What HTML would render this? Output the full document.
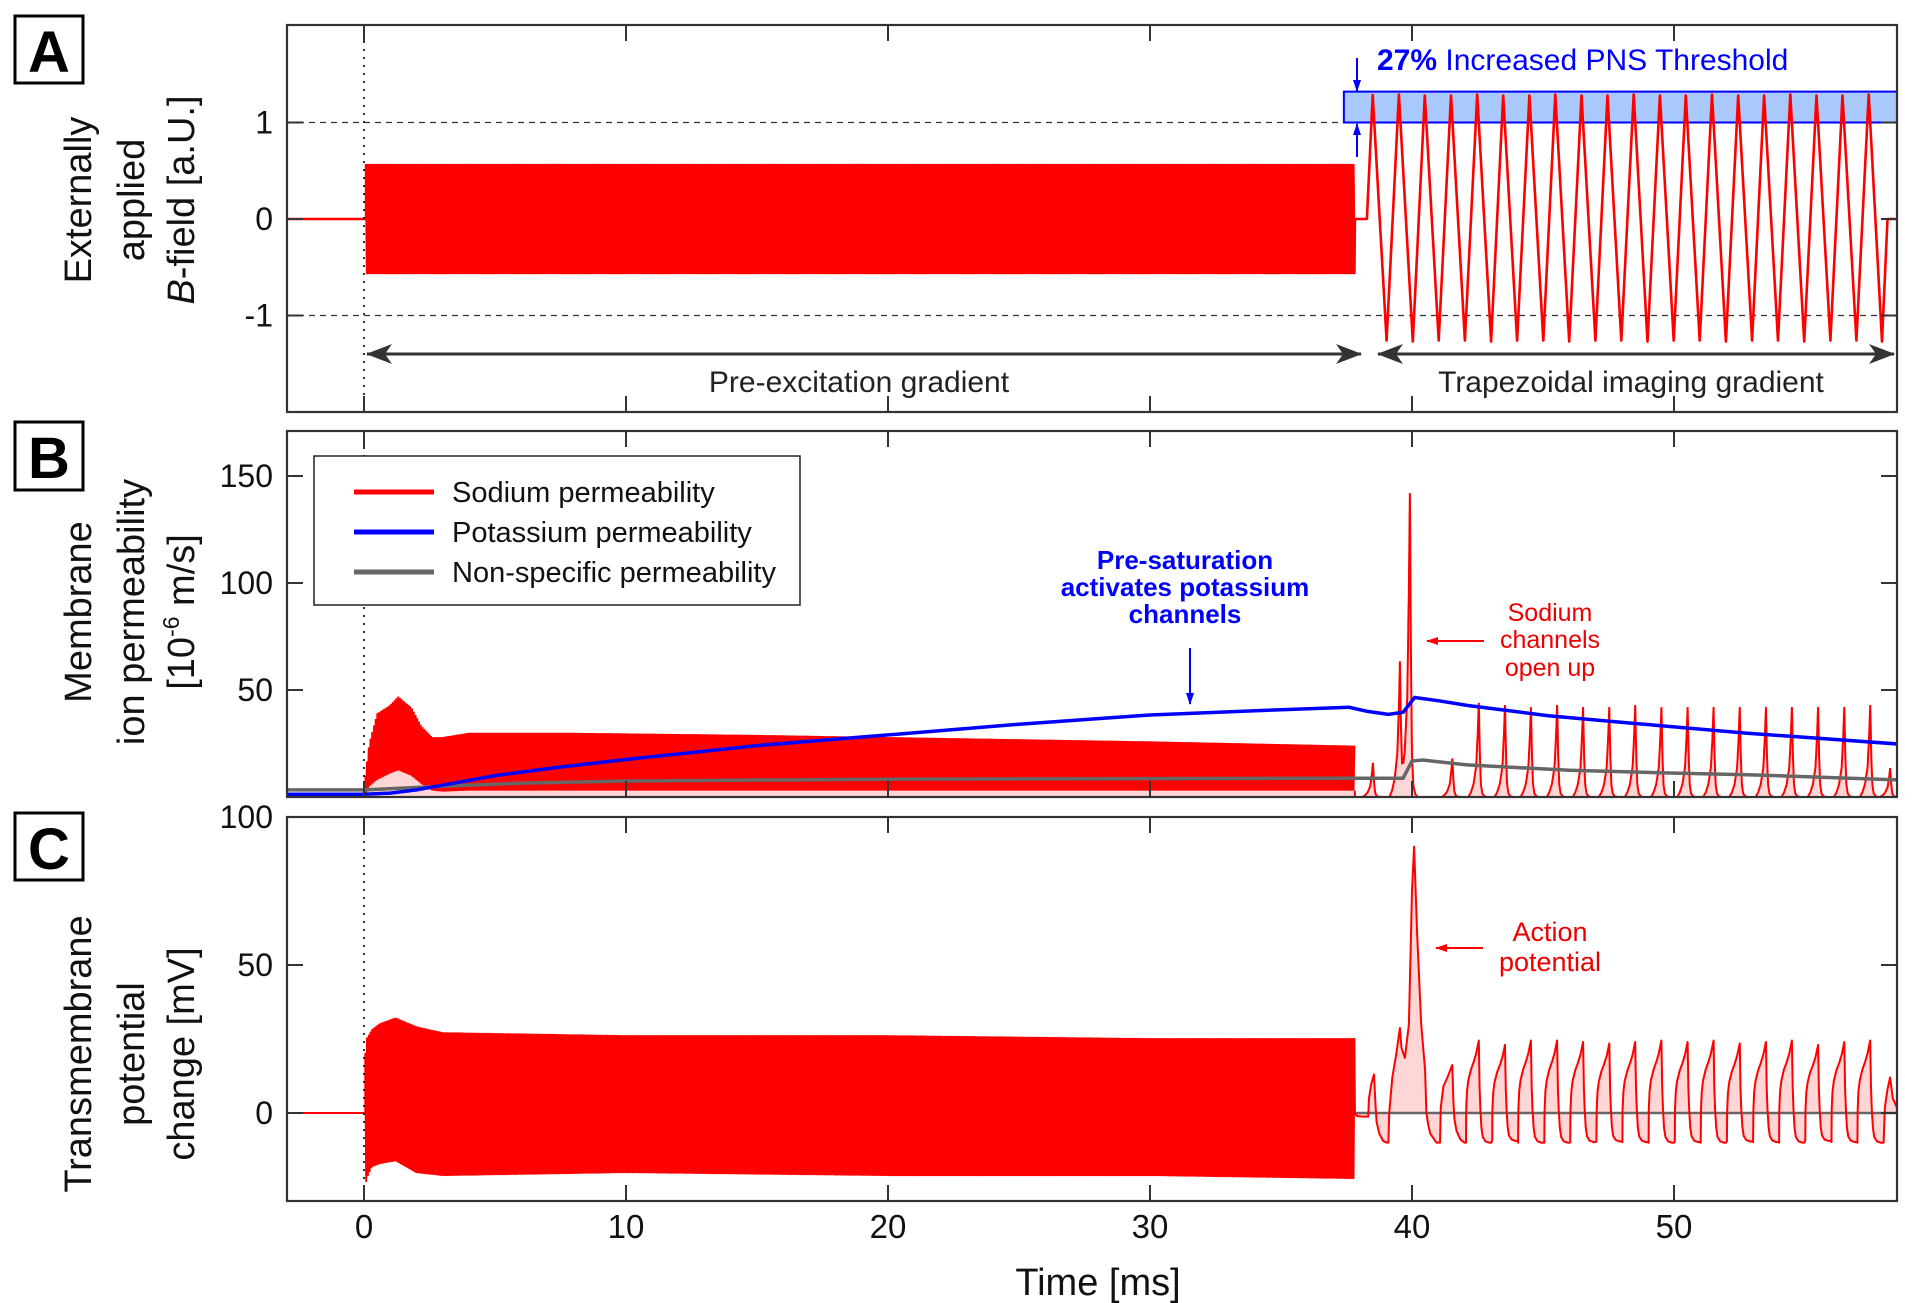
<!DOCTYPE html>
<html><head><meta charset="utf-8"><title>PNS threshold chart</title>
<style>
html,body{margin:0;padding:0;background:#fff;}
svg{display:block;font-family:"Liberation Sans",Arial,sans-serif;}
</style></head>
<body>
<svg id="chart" xmlns="http://www.w3.org/2000/svg" width="1919" height="1303" viewBox="0 0 1919 1303">
<defs>
<marker id="ahb" markerWidth="12" markerHeight="10" refX="11" refY="5" orient="auto" markerUnits="userSpaceOnUse"><path d="M0,1 L12,5 L0,9 z" fill="#00f"/></marker>
<marker id="ahr" markerWidth="12" markerHeight="10" refX="11" refY="5" orient="auto" markerUnits="userSpaceOnUse"><path d="M0,1 L12,5 L0,9 z" fill="#f00"/></marker>
<marker id="ahg" markerWidth="26" markerHeight="20" refX="25" refY="10" orient="auto" markerUnits="userSpaceOnUse"><path d="M0,0 L26,10 L0,20 L7,10 z" fill="#333"/></marker>
<clipPath id="clipA"><rect x="287" y="25" width="1610" height="387"/></clipPath>
<clipPath id="clipB"><rect x="287" y="431" width="1610" height="366"/></clipPath>
<clipPath id="clipC"><rect x="287" y="817" width="1610" height="384"/></clipPath>
</defs>
</svg>
<script>
// ---------- data ----------
const xTicks=[0,10,20,30,40,50];
const xTickLabels=["0","10","20","30","40","50"];
const aTicks=[1,0,-1];
const aTickLabels=["1","0","-1"];
const bTicks=[50,100,150];
const bTickLabels=["50","100","150"];
const cTicks=[0,50,100];
const cTickLabels=["0","50","100"];

// Panel A: pre-excitation envelope
const aEnvT=[0.08,10,20,30,37.82];
const aEnvHi=[0.56,0.56,0.56,0.56,0.56];
const aEnvLo=[-0.56,-0.56,-0.56,-0.56,-0.56];
// Panel A: trapezoidal gradient
const trapPeakT=[38.50,39.50,40.49,41.49,42.49,43.48,44.48,45.47,46.47,47.46,48.46,49.46,50.45,51.45,52.45,53.44,54.44,55.44,56.43,57.43];
const trapPeakV=[1.285,1.29,1.28,1.28,1.29,1.28,1.28,1.29,1.28,1.28,1.29,1.28,1.28,1.29,1.28,1.28,1.29,1.28,1.28,1.29];
const trapTroughT=[39.03,40.03,41.02,42.02,43.02,44.01,45.01,46.00,47.00,47.99,48.99,49.99,50.98,51.98,52.98,53.97,54.97,55.97,56.96,57.94];
const trapTroughV=[-1.26,-1.27,-1.26,-1.26,-1.27,-1.26,-1.26,-1.27,-1.26,-1.26,-1.27,-1.26,-1.26,-1.27,-1.26,-1.26,-1.27,-1.26,-1.26,-1.27];

// Panel B: sodium pre-excitation envelope
const bEnvT=[0.05,0.2,0.5,1.0,1.3,1.8,2.2,2.6,3,4,8,15,20,30,37.82];
const bEnvHi=[10,25,39,43,47,42,33,28,28,30,30,29,28,26,24];
const bEnvLo=[0,5,8,11,12.5,10,6,3,2.5,3,3,3,3,3,3];
// Panel B: sodium spikes after pre-excitation
const bSpikeT=[38.51,39.54,39.92,41.54,42.55,43.55,44.54,45.54,46.53,47.53,48.52,49.52,50.52,51.51,52.51,53.51,54.50,55.50,56.50,57.49,58.25];
const bSpikeH=[16,62,142,18,44,43,42,43,42,42,43,42,42,42,42,42,42,42,42,43,13.5];
// Panel B: potassium
const kT=[-3,0,1,2,3,5,7.5,10,15,20,25,30,35,37.6,38.3,39.1,39.66,40.1,41,42.1,45.2,48.4,52.8,58.6];
const kV=[1.3,1.3,1.8,3.3,5.5,10,14,17.5,24,29,34,38.3,40.8,41.9,40,38.6,39.6,46.5,45,42.8,38,34.5,29.8,24.7];
// Panel B: non-specific
const nT=[-3,0,3,6,10,20,37.6,39.66,40.0,40.4,42.1,46,49.8,52.8,58.6];
const nV=[3.3,3.3,5,6.5,7.5,8.3,8.8,8.8,16.8,17.3,15,12.5,11.2,10.4,8];

// Panel C: pre-excitation envelope
const cEnvT=[0.05,0.1,0.3,0.6,1.2,2,3,10,20,30,37.82];
const cEnvHi=[20,25,28,30,32,29,27,26,26,25,25];
const cEnvLo=[-25,-22,-18,-17,-16,-20,-21,-20,-21,-21,-22];
// Panel C: irregular onset + action potential
const cPostT=[37.82,37.9,38.1,38.33,38.36,38.45,38.55,38.6,38.65,38.75,38.9,39.03,39.1,39.13,39.25,39.4,39.54,39.6,39.73,39.88,40.0,40.08,40.2,40.35,40.5,40.55,40.62,40.7,40.85,40.93,41.07,41.1,41.2,41.35,41.54,41.58,41.62,41.7,41.85,42.0];
const cPostV=[0,-1,-1.2,-1.2,5,10,13,4,-3,-7,-9.5,-10,-10,0,12,20,28.7,22,18.6,30,75,90,60,30,14.5,0,-4,-7,-9,-10,-10,2,9,12,16.2,4,-2,-6,-9,-10];
// Panel C: regular spike train
const cTrainT=[42.55,43.55,44.54,45.54,46.53,47.53,48.52,49.52,50.52,51.51,52.51,53.51,54.50,55.50,56.50,57.49];
const cTrainH=[24.5,23,24.5,24.5,24,23.5,24,24.5,24,24.5,23.5,24,24.5,23,24,24.5];
const cEndT=[58.0,58.05,58.15,58.25,58.35,58.5,58.6];
const cEndV=[-10,2,8,12,5,2,1];

// ---------- axes ----------
const X=t=>364+26.2*t;
const yA=v=>219-96.5*v;
const yB=v=>797-2.14*v;
const yC=v=>1113-2.96*v;
const T0=-2.95, T1=58.5;
const NS="http://www.w3.org/2000/svg";
const svg=document.getElementById('chart');
function mk(tag,attrs,parent,txt){const e=document.createElementNS(NS,tag);for(const k in attrs)e.setAttribute(k,attrs[k]);if(txt!==undefined)e.textContent=txt;(parent||svg).appendChild(e);return e;}
function interp(ts,vs,t){if(t<=ts[0])return vs[0];for(let i=1;i<ts.length;i++){if(t<=ts[i]){const f=(t-ts[i-1])/(ts[i]-ts[i-1]);return vs[i-1]+f*(vs[i]-vs[i-1]);}}return vs[vs.length-1];}
function pathD(pts,fx,fy){return pts.map((p,i)=>(i?'L':'M')+fx(p[0]).toFixed(1)+','+fy(p[1]).toFixed(1)).join('');}
function zigzag(ts,hi,lo,step){const pts=[];let k=0;for(let t=ts[0];t<=ts[ts.length-1];t+=step,k++){pts.push([t,k%2?interp(ts,lo,t):interp(ts,hi,t)]);}return pts;}

const panels=[
 {id:'a',top:25,bot:412,fy:yA,ticks:aTicks,labels:aTickLabels,clip:'clipA'},
 {id:'b',top:431,bot:797,fy:yB,ticks:bTicks,labels:bTickLabels,clip:'clipB'},
 {id:'c',top:817,bot:1201,fy:yC,ticks:cTicks,labels:cTickLabels,clip:'clipC'}
];
const G={};
panels.forEach(p=>{
  const g=mk('g',{},svg);
  
  
  G[p.id]=mk('g',{'clip-path':'url(#'+p.clip+')'},g);
  p.g=g;
});

// Panel A guides
const dash1=mk('line',{x1:287,x2:1897,y1:yA(1),y2:yA(1),stroke:'#333','stroke-width':1.3,'stroke-dasharray':'6,5'},G.a);


const dash2=mk('line',{x1:287,x2:1897,y1:yA(-1),y2:yA(-1),stroke:'#333','stroke-width':1.3,'stroke-dasharray':'6,5'},G.a);


const band=mk('rect',{x:X(37.4),y:yA(1.32),width:1897-X(37.4),height:yA(1)-yA(1.32),fill:'#a9c8fb',stroke:'#0000ff','stroke-width':2},G.a);



// A series
const aPre=zigzag(aEnvT,aEnvHi,aEnvLo,0.04);
const aPts=[[T0,0],[0.08,0]].concat(aPre).concat([[37.82,0],[38.28,0]]);
for(let i=0;i<trapPeakT.length;i++){aPts.push([trapPeakT[i],trapPeakV[i]]);aPts.push([trapTroughT[i],trapTroughV[i]]);}
aPts.push([58.15,0],[T1,0]);
const aLine=mk('path',{d:pathD(aPts,X,yA),fill:'none',stroke:'#ff0000','stroke-width':2.6,'stroke-linejoin':'round'},G.a);



// B series
const bPre=zigzag(bEnvT,bEnvHi,bEnvLo,0.033);
const spikeRel=[-0.4,-0.3,-0.2,-0.1,-0.04,0,0.04,0.08,0.13,0.2,0.3];
const spikeFrac=[0,0.05,0.14,0.33,0.68,1,0.45,0.14,0.04,0.01,0];
function bPostVal(t){let v=0;for(let i=0;i<bSpikeT.length;i++){const d=t-bSpikeT[i];if(d>-0.4&&d<0.3)v+=bSpikeH[i]*interp(spikeRel,spikeFrac,d);}return v;}
const bPost=[];for(let t=37.82;t<=T1;t+=0.01)bPost.push([t,bPostVal(t)]);
const bNa=[[T0,0],[0.05,0]].concat(bPre).concat([[37.82,0]]).concat(bPost);
const bFill=mk('path',{d:pathD(bNa,X,yB)+'L'+X(T1)+','+yB(0)+'L'+X(T0)+','+yB(0)+'Z',fill:'#ffd6d6',stroke:'none'},G.b);


const lowFill=[[0.05,0]].concat(bEnvT.map((t,i)=>[t,bEnvLo[i]])).concat([[37.82,0]]);
const lowFillEl=mk('path',{d:pathD(lowFill,X,yB)+'Z',fill:'#ffd6d6'},G.b);


const bNaPre=mk('path',{d:pathD(bPre,X,yB),fill:'none',stroke:'#ff0000','stroke-width':2},G.b);


const bNaPost=mk('path',{d:pathD([[37.82,3]].concat(bPost),X,yB),fill:'none',stroke:'#ff0000','stroke-width':2},G.b);


const nLine=mk('path',{d:pathD(nT.map((t,i)=>[t,nV[i]]),X,yB),fill:'none',stroke:'#666','stroke-width':3.5},G.b);


const kLine=mk('path',{d:pathD(kT.map((t,i)=>[t,kV[i]]),X,yB),fill:'none',stroke:'#0000ff','stroke-width':3.5},G.b);



// C series
const cPre=zigzag(cEnvT,cEnvHi,cEnvLo,0.033);
const tmplT=[-0.49,-0.48,-0.45,-0.4,-0.3,-0.2,-0.1,0,0.03,0.06,0.1,0.15,0.25,0.4,0.47];
const tmplF=[-0.41,0.05,0.3,0.45,0.6,0.7,0.82,1,0.35,0.05,-0.2,-0.33,-0.39,-0.41,-0.41];
let cPost=cPostT.map((t,i)=>[t,cPostV[i]]);
for(let i=0;i<cTrainT.length;i++){for(let j=0;j<tmplT.length;j++)cPost.push([cTrainT[i]+tmplT[j],cTrainH[i]*tmplF[j]]);}
cPost=cPost.concat(cEndT.map((t,i)=>[t,cEndV[i]]));
const cFill=mk('path',{d:pathD(cPost,X,yC)+'L'+X(T1)+','+yC(0)+'L'+X(37.82)+','+yC(0)+'Z',fill:'#ffd6d6'},G.c);


const zeroC=mk('line',{x1:X(37.82),x2:1897,y1:yC(0),y2:yC(0),stroke:'#666','stroke-width':2.5},G.c);


const cPts=[[T0,0],[0.05,0]].concat(cPre).concat(cPost);
const cLine=mk('path',{d:pathD(cPts,X,yC),fill:'none',stroke:'#ff0000','stroke-width':2,'stroke-linejoin':'round'},G.c);



// frames, ticks, dotted lines
panels.forEach(p=>{
  const dl=mk('line',{x1:X(0),x2:X(0),y1:p.top,y2:p.bot,stroke:'#000','stroke-width':1.6,'stroke-dasharray':'2,6'},p.g);
  
  
  xTicks.forEach(t=>{
    const tk=mk('path',{d:'M'+X(t)+','+p.bot+'v-16M'+X(t)+','+p.top+'v16',stroke:'#333','stroke-width':2},p.g);
    
    
  });
  p.ticks.forEach((v,i)=>{
    const tk=mk('path',{d:'M287,'+p.fy(v)+'h16M1897,'+p.fy(v)+'h-16',stroke:'#333','stroke-width':2},p.g);
    
    
    const tl=mk('text',{x:273,y:p.fy(v)+11,'text-anchor':'end','font-size':32,fill:'#111'},p.g,p.labels[i]);
    
    
  });
  const fr=mk('rect',{x:287,y:p.top,width:1610,height:p.bot-p.top,fill:'none',stroke:'#333','stroke-width':2.2},p.g);
  
  
});
xTicks.forEach((t,i)=>{
  const tl=mk('text',{x:X(t),y:1238,'text-anchor':'middle','font-size':33,fill:'#111'},svg,xTickLabels[i]);
  
  
});
</script>

<svg style="position:absolute;left:0;top:0" width="1919" height="1303" viewBox="0 0 1919 1303">
<g font-family="Liberation Sans, Arial, sans-serif">
<!-- panel letters -->
<g><rect x="15" y="16" width="68" height="67" fill="none" stroke="#000" stroke-width="3"/><text x="49" y="72" text-anchor="middle" font-size="58" font-weight="bold">A</text></g>
<g><rect x="15" y="422" width="68" height="68" fill="none" stroke="#000" stroke-width="3"/><text x="49" y="478" text-anchor="middle" font-size="58" font-weight="bold">B</text></g>
<g><rect x="15" y="813" width="68" height="67" fill="none" stroke="#000" stroke-width="3"/><text x="49" y="869" text-anchor="middle" font-size="58" font-weight="bold">C</text></g>

<!-- y-axis titles -->
<g font-size="38" fill="#111" text-anchor="middle">
<text transform="translate(91,200) rotate(-90)">Externally</text>
<text transform="translate(144,200) rotate(-90)">applied</text>
<text transform="translate(194,200) rotate(-90)"><tspan font-style="italic">B</tspan>-field [a.U.]</text>
</g>
<g font-size="38" fill="#111" text-anchor="middle">
<text transform="translate(91,612) rotate(-90)">Membrane</text>
<text transform="translate(144,612) rotate(-90)">ion permeability</text>
<text transform="translate(194,612) rotate(-90)">[10<tspan font-size="23" dy="-15">-6</tspan><tspan dy="15"> m/s]</tspan></text>
</g>
<g font-size="38" fill="#111" text-anchor="middle">
<text transform="translate(91,1054) rotate(-90)">Transmembrane</text>
<text transform="translate(144,1054) rotate(-90)">potential</text>
<text transform="translate(194,1054) rotate(-90)">change [mV]</text>
</g>
<text x="1098" y="1295" text-anchor="middle" font-size="38" fill="#111">Time [ms]</text>

<!-- Panel A annotations -->
<line x1="1357" y1="58" x2="1357" y2="91" stroke="#00f" stroke-width="2" marker-end="url(#ahb)"/>
<line x1="1357" y1="157" x2="1357" y2="124" stroke="#00f" stroke-width="2" marker-end="url(#ahb)"/>
<text x="1377" y="70" font-size="30" fill="#00f"><tspan font-weight="bold">27%</tspan> Increased PNS Threshold</text>
<line x1="1001" y1="354" x2="1361" y2="354" stroke="#333" stroke-width="3" marker-end="url(#ahg)"/>
<line x1="1001" y1="354" x2="367" y2="354" stroke="#333" stroke-width="3" marker-end="url(#ahg)"/>
<text x="859" y="392" text-anchor="middle" font-size="30" fill="#222">Pre-excitation gradient</text>
<line x1="1630" y1="354" x2="1894" y2="354" stroke="#333" stroke-width="3" marker-end="url(#ahg)"/>
<line x1="1630" y1="354" x2="1378" y2="354" stroke="#333" stroke-width="3" marker-end="url(#ahg)"/>
<text x="1631" y="392" text-anchor="middle" font-size="30" fill="#222">Trapezoidal imaging gradient</text>

<!-- Legend -->
<g>
<rect x="314" y="456" width="486" height="149" fill="#fff" stroke="#222" stroke-width="1.5"/>
<g><line x1="354" x2="434" y1="492" y2="492" stroke="#f00" stroke-width="5"/><text x="452" y="502" font-size="29" fill="#111">Sodium permeability</text></g>
<g><line x1="354" x2="434" y1="532" y2="532" stroke="#00f" stroke-width="5"/><text x="452" y="542" font-size="29" fill="#111">Potassium permeability</text></g>
<g><line x1="354" x2="434" y1="572" y2="572" stroke="#666" stroke-width="5"/><text x="452" y="582" font-size="29" fill="#111">Non-specific permeability</text></g>
</g>

<!-- Panel B annotations -->
<g font-size="26" font-weight="bold" fill="#00f" text-anchor="middle">
<text x="1185" y="569">Pre-saturation</text>
<text x="1185" y="596">activates potassium</text>
<text x="1185" y="623">channels</text>
<line x1="1190" y1="648" x2="1190" y2="704" stroke="#00f" stroke-width="2" marker-end="url(#ahb)"/>
</g>
<g font-size="25" fill="#e00" text-anchor="middle">
<text x="1550" y="621">Sodium</text>
<text x="1550" y="648">channels</text>
<text x="1550" y="676">open up</text>
<line x1="1484" y1="641" x2="1427" y2="641" stroke="#f00" stroke-width="2" marker-end="url(#ahr)"/>
</g>
<!-- Panel C annotation -->
<g font-size="27" fill="#e00" text-anchor="middle">
<text x="1550" y="941">Action</text>
<text x="1550" y="971">potential</text>
<line x1="1483" y1="948" x2="1436" y2="948" stroke="#f00" stroke-width="2" marker-end="url(#ahr)"/>
</g>
</g>
</svg>
</body></html>
